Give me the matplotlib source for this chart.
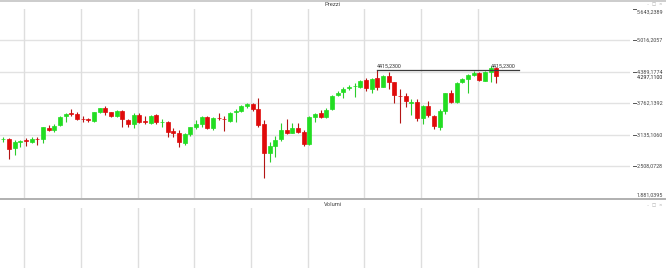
import matplotlib
matplotlib.use('Agg')
import matplotlib.pyplot as plt
from matplotlib.lines import Line2D

# ---- data (monthly candles) ----
opens = [3046, 3046, 2868, 2993, 3027, 2993, 3058, 3046, 3277, 3237,
         3330, 3509, 3559, 3555, 3450, 3456, 3416, 3595, 3674, 3583,
         3515, 3608, 3430, 3356, 3535, 3416, 3364, 3529, 3392, 3396,
         3211, 3178, 2967, 3152, 3297, 3344, 3495, 3265, 3469, 3456,
         3410, 3583, 3608, 3708, 3748, 3642, 3350, 2768, 2913, 3046,
         3231, 3178, 3265, 3197, 2953, 3495, 3563, 3495, 3642, 3926,
         3992, 4059, 4099, 4091, 4224, 4039, 4258, 4091, 4304, 4178,
         3916, 3906, 3777, 3793, 3463, 3708, 3509, 3297, 3614, 3972,
         3793, 4178, 4238, 4323, 4357, 4210, 4389, 4471]
highs = [3086, 3066, 3033, 3033, 3078, 3098, 3098, 3297, 3330, 3344,
         3509, 3575, 3654, 3595, 3509, 3475, 3595, 3674, 3708, 3595,
         3628, 3628, 3450, 3563, 3563, 3509, 3529, 3543, 3444, 3416,
         3265, 3231, 3178, 3297, 3430, 3509, 3509, 3483, 3563, 3509,
         3583, 3642, 3728, 3773, 3773, 3861, 3430, 2999, 3112, 3376,
         3444, 3364, 3376, 3231, 3509, 3575, 3628, 3662, 3926, 4006,
         4079, 4125, 4159, 4224, 4258, 4258, 4415.23, 4323, 4389, 4190,
         4039, 3972, 3847, 3847, 3728, 3813, 3529, 3642, 3972, 4026,
         4190, 4258, 4343, 4409, 4389, 4409, 4495, 4483]
lows = [2999, 2655, 2735, 2900, 2913, 2967, 2933, 2979, 3217, 3197,
        3317, 3396, 3509, 3430, 3396, 3396, 3384, 3563, 3529, 3495,
        3495, 3297, 3297, 3265, 3364, 3356, 3344, 3356, 3297, 3086,
        3098, 2900, 2933, 3118, 3245, 3297, 3245, 3231, 3430, 3217,
        3384, 3396, 3583, 3662, 3614, 3297, 2272, 2602, 2689, 3013,
        3152, 3166, 3166, 2913, 2933, 3396, 3463, 3475, 3628, 3906,
        3861, 4026, 3892, 4059, 4012, 3960, 4026, 4079, 4039, 3762,
        3376, 3682, 3529, 3410, 3350, 3495, 3245, 3231, 3549, 3773,
        3773, 4159, 3960, 4304, 4210, 4204, 4190, 4159]
closes = [3058, 2848, 2987, 3007, 3007, 3052, 3046, 3285, 3237, 3317,
          3495, 3555, 3555, 3444, 3444, 3424, 3583, 3662, 3583, 3509,
          3608, 3444, 3356, 3535, 3396, 3390, 3509, 3396, 3396, 3197,
          3178, 2999, 3152, 3285, 3350, 3495, 3265, 3463, 3460, 3444,
          3563, 3608, 3708, 3748, 3642, 3330, 2780, 2913, 3033, 3231,
          3178, 3265, 3197, 2953, 3483, 3543, 3483, 3628, 3906, 3972,
          4039, 4091, 4105, 4210, 4059, 4244, 4079, 4310, 4178, 3926,
          3910, 3813, 3781, 3463, 3708, 3529, 3311, 3614, 3960, 3793,
          4171, 4238, 4323, 4369, 4224, 4389, 4471, 4297.11]

price_ticks = [1881.0395, 2508.0728, 3135.1060, 3762.1392, 4389.1774, 5016.2057, 5643.2389]
last_price = 4297.11
level = 4415.23
level_start, level_end = 66, 91
level_right_label_x = 86.1
vgrid = [3.7 + 10 * k for k in range(9)]

def it_fmt(v, thousands=True):
    s = f"{v:,.4f}" if thousands else f"{v:.4f}"
    return s.replace(',', '#').replace('.', ',').replace('#', '.')

# ---- figure ----
W, H = 666, 268
fig = plt.figure(figsize=(W / 100, H / 100), dpi=100)
fx = lambda px: px / W
fy = lambda py: 1 - py / H
FONT = 'Roboto'
TXT = '#454545'
GREEN, GREEN_W = '#22dd22', '#2ccc2c'
RED, RED_W = '#e00a0a', '#b31515'

ax = fig.add_axes([0, fy(198), fx(630), fy(8.5) - fy(198)])
ax.set_xlim(-0.58, 110.6)
ax.set_ylim(price_ticks[0], price_ticks[-1])
ax.axis('off')

for t in price_ticks[1:-1]:
    ax.axhline(t, color='#e2e2e2', lw=1.0, zorder=0)
for g in vgrid:
    ax.axvline(g, color='#dedede', lw=1.0, zorder=0)

for i, (o, h, l, c) in enumerate(zip(opens, highs, lows, closes)):
    up = c >= o
    body = GREEN if up else RED
    wick = GREEN_W if up else RED_W
    ax.vlines(i, l, h, color=wick, lw=0.8, zorder=2)
    ax.bar(i, abs(c - o), bottom=min(o, c), width=0.72, color=body,
           edgecolor=body, linewidth=0.5, zorder=3)

# horizontal level line with labels
ax.plot([level_start, level_end], [level, level], color='#3a3a3a', lw=0.9, zorder=4)
lbl = f"{level:.4f}".replace('.', ',')
ax.annotate(lbl, (level_start, level), xytext=(0, 1.2), textcoords='offset points',
            ha='left', va='bottom', fontsize=3.9, family=FONT, color='#333333', zorder=5)
ax.annotate(lbl, (level_right_label_x, level), xytext=(0, 1.2), textcoords='offset points',
            ha='left', va='bottom', fontsize=3.9, family=FONT, color='#333333', zorder=5)

# right axis tick marks and labels
ytr = ax.get_yaxis_transform()
for k, t in enumerate(price_ticks):
    if k < len(price_ticks) - 1 and k > 0:
        ax.plot([1.004, 1.009], [t, t], transform=ytr, color='#555555', lw=0.7, clip_on=False)
    va = 'center'
    dy = 0
    if k == len(price_ticks) - 1:
        ax.plot([1.004, 1.009], [t, t], transform=ytr, color='#555555', lw=0.7, clip_on=False)
        va, dy = 'top', -1.0
    if k == 0:
        va, dy = 'bottom', 0.3
    ax.annotate(it_fmt(t), (1.0111, t), xycoords=ytr, xytext=(0, dy), textcoords='offset points',
                ha='left', va=va, fontsize=3.9, family=FONT, color=TXT, annotation_clip=False)
ax.annotate(it_fmt(last_price), (1.0111, last_price), xycoords=ytr, xytext=(0, -0.6),
            textcoords='offset points', ha='left', va='center', fontsize=3.9, family=FONT,
            color='#222222', annotation_clip=False)

# volume panel
axv = fig.add_axes([0, 0, fx(630), fy(208)])
axv.set_xlim(-0.58, 110.6)
axv.set_ylim(0, 1)
axv.axis('off')
for g in vgrid:
    axv.axvline(g, color='#dedede', lw=1.0, zorder=0)

# panel chrome
fig.add_artist(Line2D([0, 1], [fy(0.7), fy(0.7)], color='#c8c8c8', lw=1.3))
fig.add_artist(Line2D([0, 1], [fy(199), fy(199)], color='#a3a3a3', lw=1.2))
fig.text(fx(333), fy(5), 'Prezzi', ha='center', va='center', fontsize=4.2, family=FONT, color=TXT)
fig.text(fx(333), fy(204), 'Volumi', ha='center', va='center', fontsize=4.2, family=FONT, color=TXT)
for yy in (4.5, 205):
    fig.text(fx(655), fy(yy), '–  □  ×', ha='center', va='center', fontsize=3.2,
             family='DejaVu Sans', color='#a8a8a8')

fig.savefig('out.png', dpi=100, facecolor='white')
